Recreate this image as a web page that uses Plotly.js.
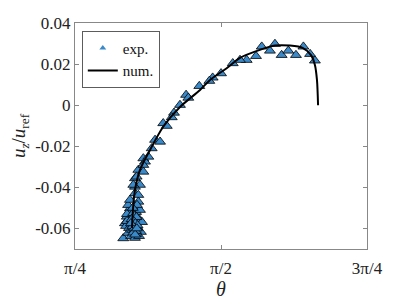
<!DOCTYPE html>
<html><head><meta charset="utf-8">
<script src="https://cdn.plot.ly/plotly-3.0.1.min.js"></script>
<style>html,body{margin:0;padding:0;background:#fff}#c{width:407px;height:306px}</style>
</head><body><div id="c"></div>
<script>
const expTheta = [1.790,1.861,1.834,1.897,1.933,1.974,2.014,2.050,2.076,1.759,1.709,1.673,1.634,1.571,1.526,1.508,1.454,1.383,1.395,1.350,1.318,1.306,1.260,1.279,
1.216,1.243,1.198,1.153,1.162,1.126,1.153,1.108,1.135,1.108,1.180,1.153,1.117,1.099,1.108,1.126,1.126,1.081,1.064,1.054,1.117,1.045,1.099,
1.071,1.092,1.114,1.135,1.065,1.087,1.108,1.130,1.146,1.060,1.076,1.097,1.124,1.140,1.071,1.087,1.108,1.130,1.065,1.103,1.081,1.119,1.092,1.114,
1.100,1.112,1.095,1.120,1.105,
1.098,1.106,1.116,1.090,1.102,1.110,1.122,1.094,1.104,1.113,1.086,1.099,1.109,1.118,1.096];
const expU = [0.0285,0.0298,0.0265,0.0244,0.0265,0.0244,0.0285,0.0249,0.0217,0.0239,0.0220,0.0220,0.0204,0.0155,0.0134,0.0118,0.0093,0.0050,0.0036,0.0001,-0.0037,-0.0059,-0.0088,-0.0101,
-0.0169,-0.0178,-0.0210,-0.0259,-0.0275,-0.0315,-0.0324,-0.0356,-0.0388,-0.0397,-0.0251,-0.0291,-0.0348,-0.0388,-0.0429,-0.0437,-0.0470,-0.0502,-0.0543,-0.0575,-0.0591,-0.0648,-0.0616,
-0.0486,-0.0510,-0.0520,-0.0510,-0.0530,-0.0549,-0.0559,-0.0554,-0.0569,-0.0588,-0.0598,-0.0583,-0.0607,-0.0617,-0.0622,-0.0637,-0.0646,-0.0637,-0.0564,-0.0534,-0.0461,-0.0486,-0.0607,-0.0627,
-0.0570,-0.0580,-0.0560,-0.0595,-0.0610,
-0.0525,-0.0540,-0.0545,-0.0555,-0.0565,-0.0575,-0.0585,-0.0590,-0.0600,-0.0612,-0.0575,-0.0620,-0.0630,-0.0600,-0.0500];
const numTheta = [1.092,1.097,1.108,1.135,1.189,1.259,1.350,1.458,1.512,1.603,1.673,1.780,1.861,1.942,2.012,2.055,2.076,2.087,2.093];
const numU = [-0.0598,-0.0510,-0.0413,-0.0315,-0.0218,-0.0106,-0.0009,0.0074,0.0123,0.0181,0.0230,0.0269,0.0290,0.0290,0.0278,0.0244,0.0196,0.0123,0.0000];
const xTickVals = [Math.PI/4, Math.PI/2, 3*Math.PI/4];
const xTickText = ['π/4','π/2','3π/4'];
const yTickVals = [-0.06,-0.04,-0.02,0,0.02,0.04];
const yTickText = ['-0.06','-0.04','-0.02','0','0.02','0.04'];

const font = 'Liberation Serif, DejaVu Serif, serif';
const data = [
 {x: expTheta, y: expU, mode:'markers', type:'scatter', name:'exp.', showlegend:false, legendgroup:'e',
  marker:{symbol:'triangle-up', size:9.5, color:'#3a89c9', line:{color:'#000', width:0.8}}},
 {x: [null], y: [null], mode:'markers', type:'scatter', name:'exp.', legendgroup:'e',
  marker:{symbol:'triangle-up', size:6, color:'#3a89c9', line:{width:0}}},
 {x: numTheta, y: numU, mode:'lines', type:'scatter', name:'num.',
  line:{color:'#000', width:2, shape:'spline', smoothing:0.8}}
];
const layout = {
 width:407, height:306, margin:{l:75, r:40, t:23, b:57},
 paper_bgcolor:'#fff', plot_bgcolor:'#fff',
 font:{family:font, size:15, color:'#222'},
 showlegend:true,
 legend:{x:0.024, y:0.965, xanchor:'left', yanchor:'top', bordercolor:'#333', borderwidth:0.8,
   bgcolor:'#fff', font:{family:font, size:15, color:'#111'}, tracegroupgap:0, itemwidth:30},
 xaxis:{range:[Math.PI/4, 3*Math.PI/4], tickvals:xTickVals, ticktext:xTickText,
   ticks:'inside', ticklen:4, tickcolor:'#888', showline:true, linecolor:'#888', linewidth:1, mirror:'ticks',
   showgrid:false, zeroline:false, tickfont:{size:17}, ticklabelstandoff:4,
   title:{text:'<i>θ</i>', font:{size:20}, standoff:2}},
 yaxis:{range:[-0.07, 0.04], tickvals:yTickVals, ticktext:yTickText,
   ticks:'inside', ticklen:4, tickcolor:'#888', showline:true, linecolor:'#888', linewidth:1, mirror:'ticks',
   showgrid:false, zeroline:false, tickfont:{size:17},
   title:{text:'<i>u</i><sub><i>z</i></sub>/<i>u</i><sub>ref</sub>', font:{size:19}, standoff:4}}
};
Plotly.newPlot('c', data, layout, {displayModeBar:false, staticPlot:true});
</script></body></html>
